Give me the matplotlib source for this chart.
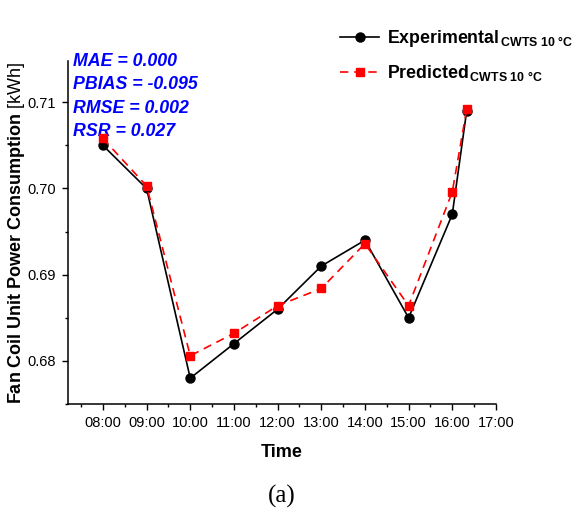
import matplotlib
matplotlib.use("Agg")
import matplotlib.pyplot as plt
from matplotlib.ticker import MultipleLocator, FixedLocator, FormatStrFormatter

plt.rcParams["font.family"] = ["Liberation Sans", "DejaVu Sans"]
plt.rcParams["mathtext.fontset"] = "custom"
plt.rcParams["mathtext.rm"] = "Liberation Sans"
plt.rcParams["mathtext.bf"] = "Liberation Sans:bold"
plt.rcParams["mathtext.it"] = "Liberation Sans:italic"

# Measurement times (decimal hours) and fan coil unit consumption [kWh]
hours = [8, 9, 10, 11, 12, 13, 14, 15, 16, 16.33]
experimental = [0.705, 0.700, 0.678, 0.682, 0.686, 0.691, 0.694, 0.685, 0.697, 0.709]
predicted = [0.7058, 0.7003, 0.6806, 0.6832, 0.6864, 0.6884, 0.6936, 0.6864, 0.6996, 0.7092]

tick_hours = [8, 9, 10, 11, 12, 13, 14, 15, 16, 17]
tick_labels = ["08:00", "09:00", "10:00", "11:00", "12:00",
               "13:00", "14:00", "15:00", "16:00", "17:00"]

metrics = ["MAE = 0.000", "PBIAS = -0.095", "RMSE = 0.002", "RSR = 0.027"]

fig = plt.figure(figsize=(5.76, 5.16), dpi=100)
ax = fig.add_axes([0.118, 0.217, 0.743, 0.665])

ax.plot(hours, experimental, color="black", lw=1.2, marker="o", ms=6.5,
        label=r"$\mathbf{Experimental}_{\mathbf{\,CWTS\ 10\ °C}}$", zorder=3)
ax.plot(hours, predicted, color="red", lw=1.2, ls=(0, (5, 3.5)), marker="s",
        ms=5.5, label=r"$\mathbf{Predicted}_{\mathbf{\,CWTS\ 10\ °C}}$", zorder=4)

ax.set_xlim(7.2, 17)
ax.set_ylim(0.675, 0.7148)
ax.xaxis.set_major_locator(FixedLocator(tick_hours))
ax.set_xticklabels(tick_labels)
ax.xaxis.set_minor_locator(MultipleLocator(0.5))
ax.yaxis.set_major_locator(MultipleLocator(0.01))
ax.yaxis.set_minor_locator(MultipleLocator(0.005))
ax.yaxis.set_major_formatter(FormatStrFormatter("%.2f"))

for side in ("top", "right"):
    ax.spines[side].set_visible(False)
for side in ("left", "bottom"):
    ax.spines[side].set_linewidth(1.1)
ax.tick_params(which="major", direction="out", length=4.5, width=1.0,
               labelsize=10.5, pad=4)
ax.tick_params(which="minor", direction="out", length=2.5, width=1.0)

ax.set_xlabel("Time", fontsize=13, fontweight="bold", labelpad=10)
ax.set_ylabel(r"$\mathbf{Fan\ Coil\ Unit\ Power\ Consumption}$ [kWh]", fontsize=13)
ax.yaxis.set_label_coords(-0.095, 0.5)

for i, txt in enumerate(metrics):
    ax.annotate(txt, xy=(0, 1), xycoords="axes fraction",
                xytext=(3.5, -3.8 - i * 16.8), textcoords="offset points",
                ha="left", va="baseline", color="#0000FF", fontsize=12.8,
                fontweight="bold", fontstyle="italic")

leg = fig.legend(loc="upper left", bbox_to_anchor=(0.578, 0.96), frameon=False,
                 fontsize=12.8, handlelength=2.2, handletextpad=0.45,
                 labelspacing=0.8, borderaxespad=0)

fig.text(0.49, 0.038, "(a)", fontsize=18, family="Liberation Serif",
         ha="center", va="center")

fig.savefig("out.png", dpi=100)
